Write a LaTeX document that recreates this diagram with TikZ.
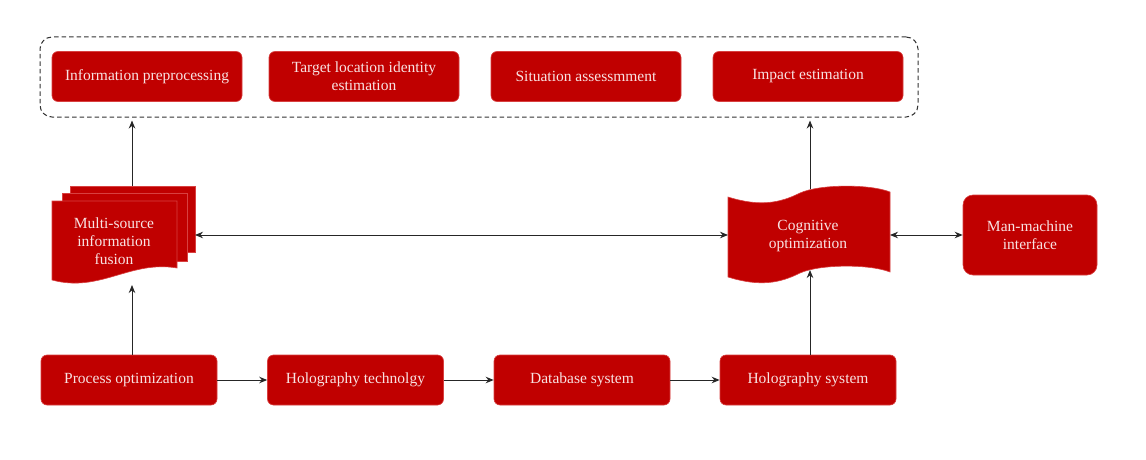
\documentclass[tikz,border=0pt]{standalone}
\usepackage{fontspec}
\setmainfont{Liberation Serif}
\usetikzlibrary{arrows.meta}
\definecolor{boxred}{HTML}{C00000}
\definecolor{boxedge}{HTML}{D84040}
\definecolor{txt}{HTML}{F8E2E2}
\begin{document}
\begin{tikzpicture}[x=1pt,y=-1pt,
  rbox/.style={fill=boxred, draw=boxedge, line width=0.6pt, rounded corners=6pt, text=txt,
    font=\fontsize{15.5}{18}\selectfont, align=center, inner sep=0pt},
  lbl/.style={text=txt, font=\fontsize{15.5}{18}\selectfont, align=center, inner sep=0pt},
  conn/.style={draw=black!85, line width=1pt, -{Stealth[length=8pt,width=6.5pt]}},
  biconn/.style={draw=black!85, line width=1pt, {Stealth[length=8pt,width=6.5pt]}-{Stealth[length=8pt,width=6.5pt]}},
  grpbox/.style={draw=black!80, line width=1pt, dash pattern=on 4.5pt off 3pt, rounded corners=12pt, inner sep=0pt}
]
\useasboundingbox[fill=white] (0,0) rectangle (1146,460);

% group box
\node[grpbox, minimum width=878pt, minimum height=80pt] (grp) at (479,77) {};

% top row
\node[rbox, minimum width=190pt, minimum height=50pt] (ip) at (147,76.5) {Information preprocessing};
\node[rbox, minimum width=190pt, minimum height=50pt] (tl) at (364,76.5) {Target location identity\\estimation};
\node[rbox, minimum width=190pt, minimum height=50pt] (sa) at (586,76.5) {Situation assessmment};
\node[rbox, minimum width=190pt, minimum height=50pt] (ie) at (808,76.5) {Impact estimation};

% bottom row
\node[rbox, minimum width=176pt, minimum height=50pt] (po) at (129,380) {Process optimization};
\node[rbox, minimum width=176pt, minimum height=50pt] (ht) at (355.5,380) {Holography technolgy};
\node[rbox, minimum width=176pt, minimum height=50pt] (db) at (582,380) {Database system};
\node[rbox, minimum width=176pt, minimum height=50pt] (hs) at (808,380) {Holography system};

% man-machine interface
\node[rbox, rounded corners=10pt, minimum width=134pt, minimum height=80pt] (mm) at (1030,235) {Man-machine\\interface};

% multi-source information fusion (stacked documents)
\filldraw[fill=boxred, draw=boxedge, line width=0.6pt] (70,186) -- (195,186) -- (195,252) -- (70,252) -- cycle;
\filldraw[fill=boxred, draw=boxedge, line width=0.6pt] (62,193) -- (187,193) -- (187,261) -- (62,261) -- cycle;
\filldraw[fill=boxred, draw=boxedge, line width=0.6pt] (52,201) -- (177,201) -- (177,268)
   .. controls (130,260) and (100,293) .. (52,280) -- cycle;
\node[lbl] (fusion) at (114,241) {Multi-source\\information\\fusion};
\coordinate (fusT) at (132,186);
\coordinate (fusB) at (132,285);
\coordinate (fusR) at (195,235);

% cognitive optimization (tape)
\filldraw[fill=boxred, draw=boxedge, line width=0.6pt] (728,197)
   .. controls (760,207) and (780,203) .. (800,193)
   .. controls (820,184) and (870,184) .. (890,192)
   -- (890,272)
   .. controls (870,264) and (820,264) .. (800,273)
   .. controls (780,283) and (760,287) .. (728,277) -- cycle;
\node[lbl] (cog) at (808,236) {Cognitive\\optimization};
\coordinate (cogT) at (810,189);
\coordinate (cogB) at (810,270);
\coordinate (cogL) at (728,235);
\coordinate (cogR) at (890,235);

% connectors
\draw[conn, shorten >=3pt] (fusT) -- (fusT |- grp.south);
\draw[conn, shorten >=3pt] (cogT) -- (cogT |- grp.south);
\draw[conn] (po.north -| fusB) -- (fusB);
\draw[conn] (hs.north -| cogB) -- (cogB);
\draw[biconn] (fusR) -- (cogL);
\draw[biconn] (cogR) -- (mm.west);
\draw[conn] (po) -- (ht);
\draw[conn] (ht) -- (db);
\draw[conn] (db) -- (hs);
\end{tikzpicture}
\end{document}
